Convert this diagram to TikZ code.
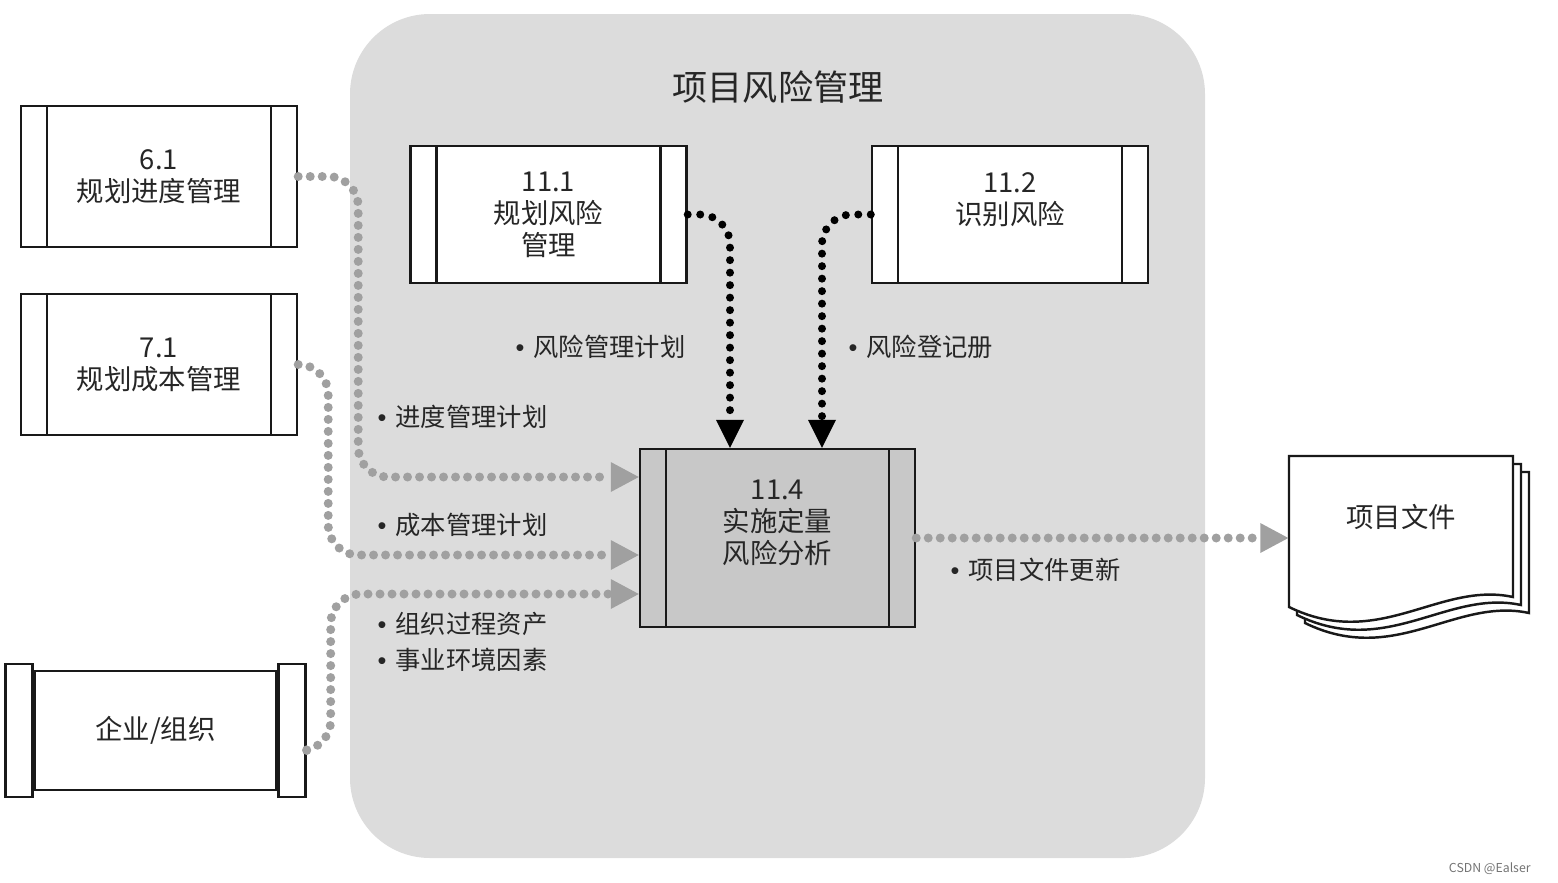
\documentclass[tikz,border=0pt]{standalone}
\usepackage{fontspec}
\setmainfont{Noto Sans CJK SC}
\newfontfamily\bulletfont{Liberation Sans}
\usetikzlibrary{positioning,arrows.meta}
\definecolor{regiongray}{HTML}{DCDCDC}
\definecolor{procgray}{HTML}{C8C8C8}
\definecolor{flowgray}{HTML}{A0A0A0}
\newcommand\bul{{\bulletfont •}\hspace{0.09cm}}

\begin{document}
\begin{tikzpicture}[text=black!85,
  proc/.style={draw=black!90, line width=0.7pt, fill=white, align=center, inner sep=0pt,
    font=\fontsize{7.8}{9.1}\selectfont, minimum width=2.76cm, minimum height=1.41cm,
    path picture={\draw[line width=0.7pt]
      ([xshift=0.26cm]path picture bounding box.north west) -- ([xshift=0.26cm]path picture bounding box.south west)
      ([xshift=-0.26cm]path picture bounding box.north east) -- ([xshift=-0.26cm]path picture bounding box.south east);}},
  endcap/.style={draw=black!90, line width=0.7pt, fill=white, inner sep=0pt, minimum width=0.27cm, minimum height=1.33cm},
  note/.style={anchor=west, inner sep=0pt, font=\fontsize{7.2}{8.6}\selectfont},
  inflow/.style={draw=flowgray, line width=0.09cm, line cap=round, dash pattern=on 0pt off 0.12cm,
    rounded corners=0.3cm, -{Triangle[length=0.28cm, width=0.30cm, line width=0pt]}},
  ctrlflow/.style={draw=black, line width=0.08cm, line cap=round, dash pattern=on 0pt off 0.125cm,
    rounded corners=0.3cm, -{Triangle[length=0.28cm, width=0.28cm, line width=0pt]}}]
  \useasboundingbox (0,0) rectangle (15.58,-8.83);
  \node[fill=regiongray, rounded corners=0.8cm, minimum width=8.55cm, minimum height=8.44cm] (region) at (7.775,-4.36) {};
  \node[font=\fontsize{10}{12}\selectfont] (title) at (7.78,-0.87) {项目风险管理};

  \node[proc] (p61) at (1.59,-1.765) {6.1\\规划进度管理};
  \node[proc] (p71) at (1.59,-3.645) {7.1\\规划成本管理};
  \node[proc, minimum height=1.37cm] (p111) at (5.485,-2.145) {11.1\\规划风险\\管理};
  \node[proc, minimum height=1.37cm] (p112) at (10.10,-2.145) {11.2\\识别风险\\~};
  \node[proc, fill=procgray, minimum width=2.75cm, minimum height=1.78cm] (p114) at (7.775,-5.38) {11.4\\实施定量\\风险分析\\~};

  \node[draw=black!90, line width=0.7pt, fill=white, minimum width=2.41cm, minimum height=1.19cm,
    font=\fontsize{7.8}{9.1}\selectfont] (org) at (1.555,-7.305) {企业/组织};
  \node[endcap, anchor=east] (orgl) at (org.west) {};
  \node[endcap, anchor=west] (orgr) at (org.east) {};

  \foreach \s in {0.16,0.08,0}
    \draw[draw=black!90, line width=0.7pt, fill=white, shift={(\s,-\s)}]
      (12.89,-4.56) -- (15.13,-4.56) -- (15.13,-5.97)
      .. controls (14.39,-5.81) and (13.79,-6.51) .. (12.89,-6.07) -- cycle;
  \node[minimum width=2.24cm, minimum height=1.68cm, inner sep=0pt] (docs) at (14.01,-5.40) {};
  \node[font=\fontsize{7.8}{9.1}\selectfont] (doctxt) at (14.01,-5.17) {项目文件};

  \draw[inflow] (p61.east) -- ++(0.60,0) |- ([yshift=0.61cm]p114.west);
  \draw[inflow] (p71.east) -- ++(0.30,0) |- ([yshift=-0.17cm]p114.west);
  \draw[inflow] ([yshift=-0.20cm]orgr.east) -- ++(0.24,0) |- ([yshift=-0.56cm]p114.west);
  \draw[inflow] (p114.east) -- (p114.east -| docs.west);
  \draw[ctrlflow] (p111.east) -| ([xshift=-0.475cm]p114.north);
  \draw[ctrlflow] (p112.west) -| ([xshift=0.445cm]p114.north);

  \node[note] (n1) at (5.15,-3.47) {\bul 风险管理计划};
  \node[note] (n2) at (8.48,-3.47) {\bul 风险登记册};
  \node[note] (n3) at (3.77,-4.17) {\bul 进度管理计划};
  \node[note] (n4) at (3.77,-5.25) {\bul 成本管理计划};
  \node[note] (n5) at (3.77,-6.24) {\bul 组织过程资产};
  \node[note] (n6) at (3.77,-6.60) {\bul 事业环境因素};
  \node[note] (n7) at (9.50,-5.70) {\bul 项目文件更新};

  \node[font=\fontsize{3.5}{4}\selectfont, text=black!55, anchor=east] (mark) at (15.43,-8.69) {CSDN @Ealser};
\end{tikzpicture}
\end{document}
